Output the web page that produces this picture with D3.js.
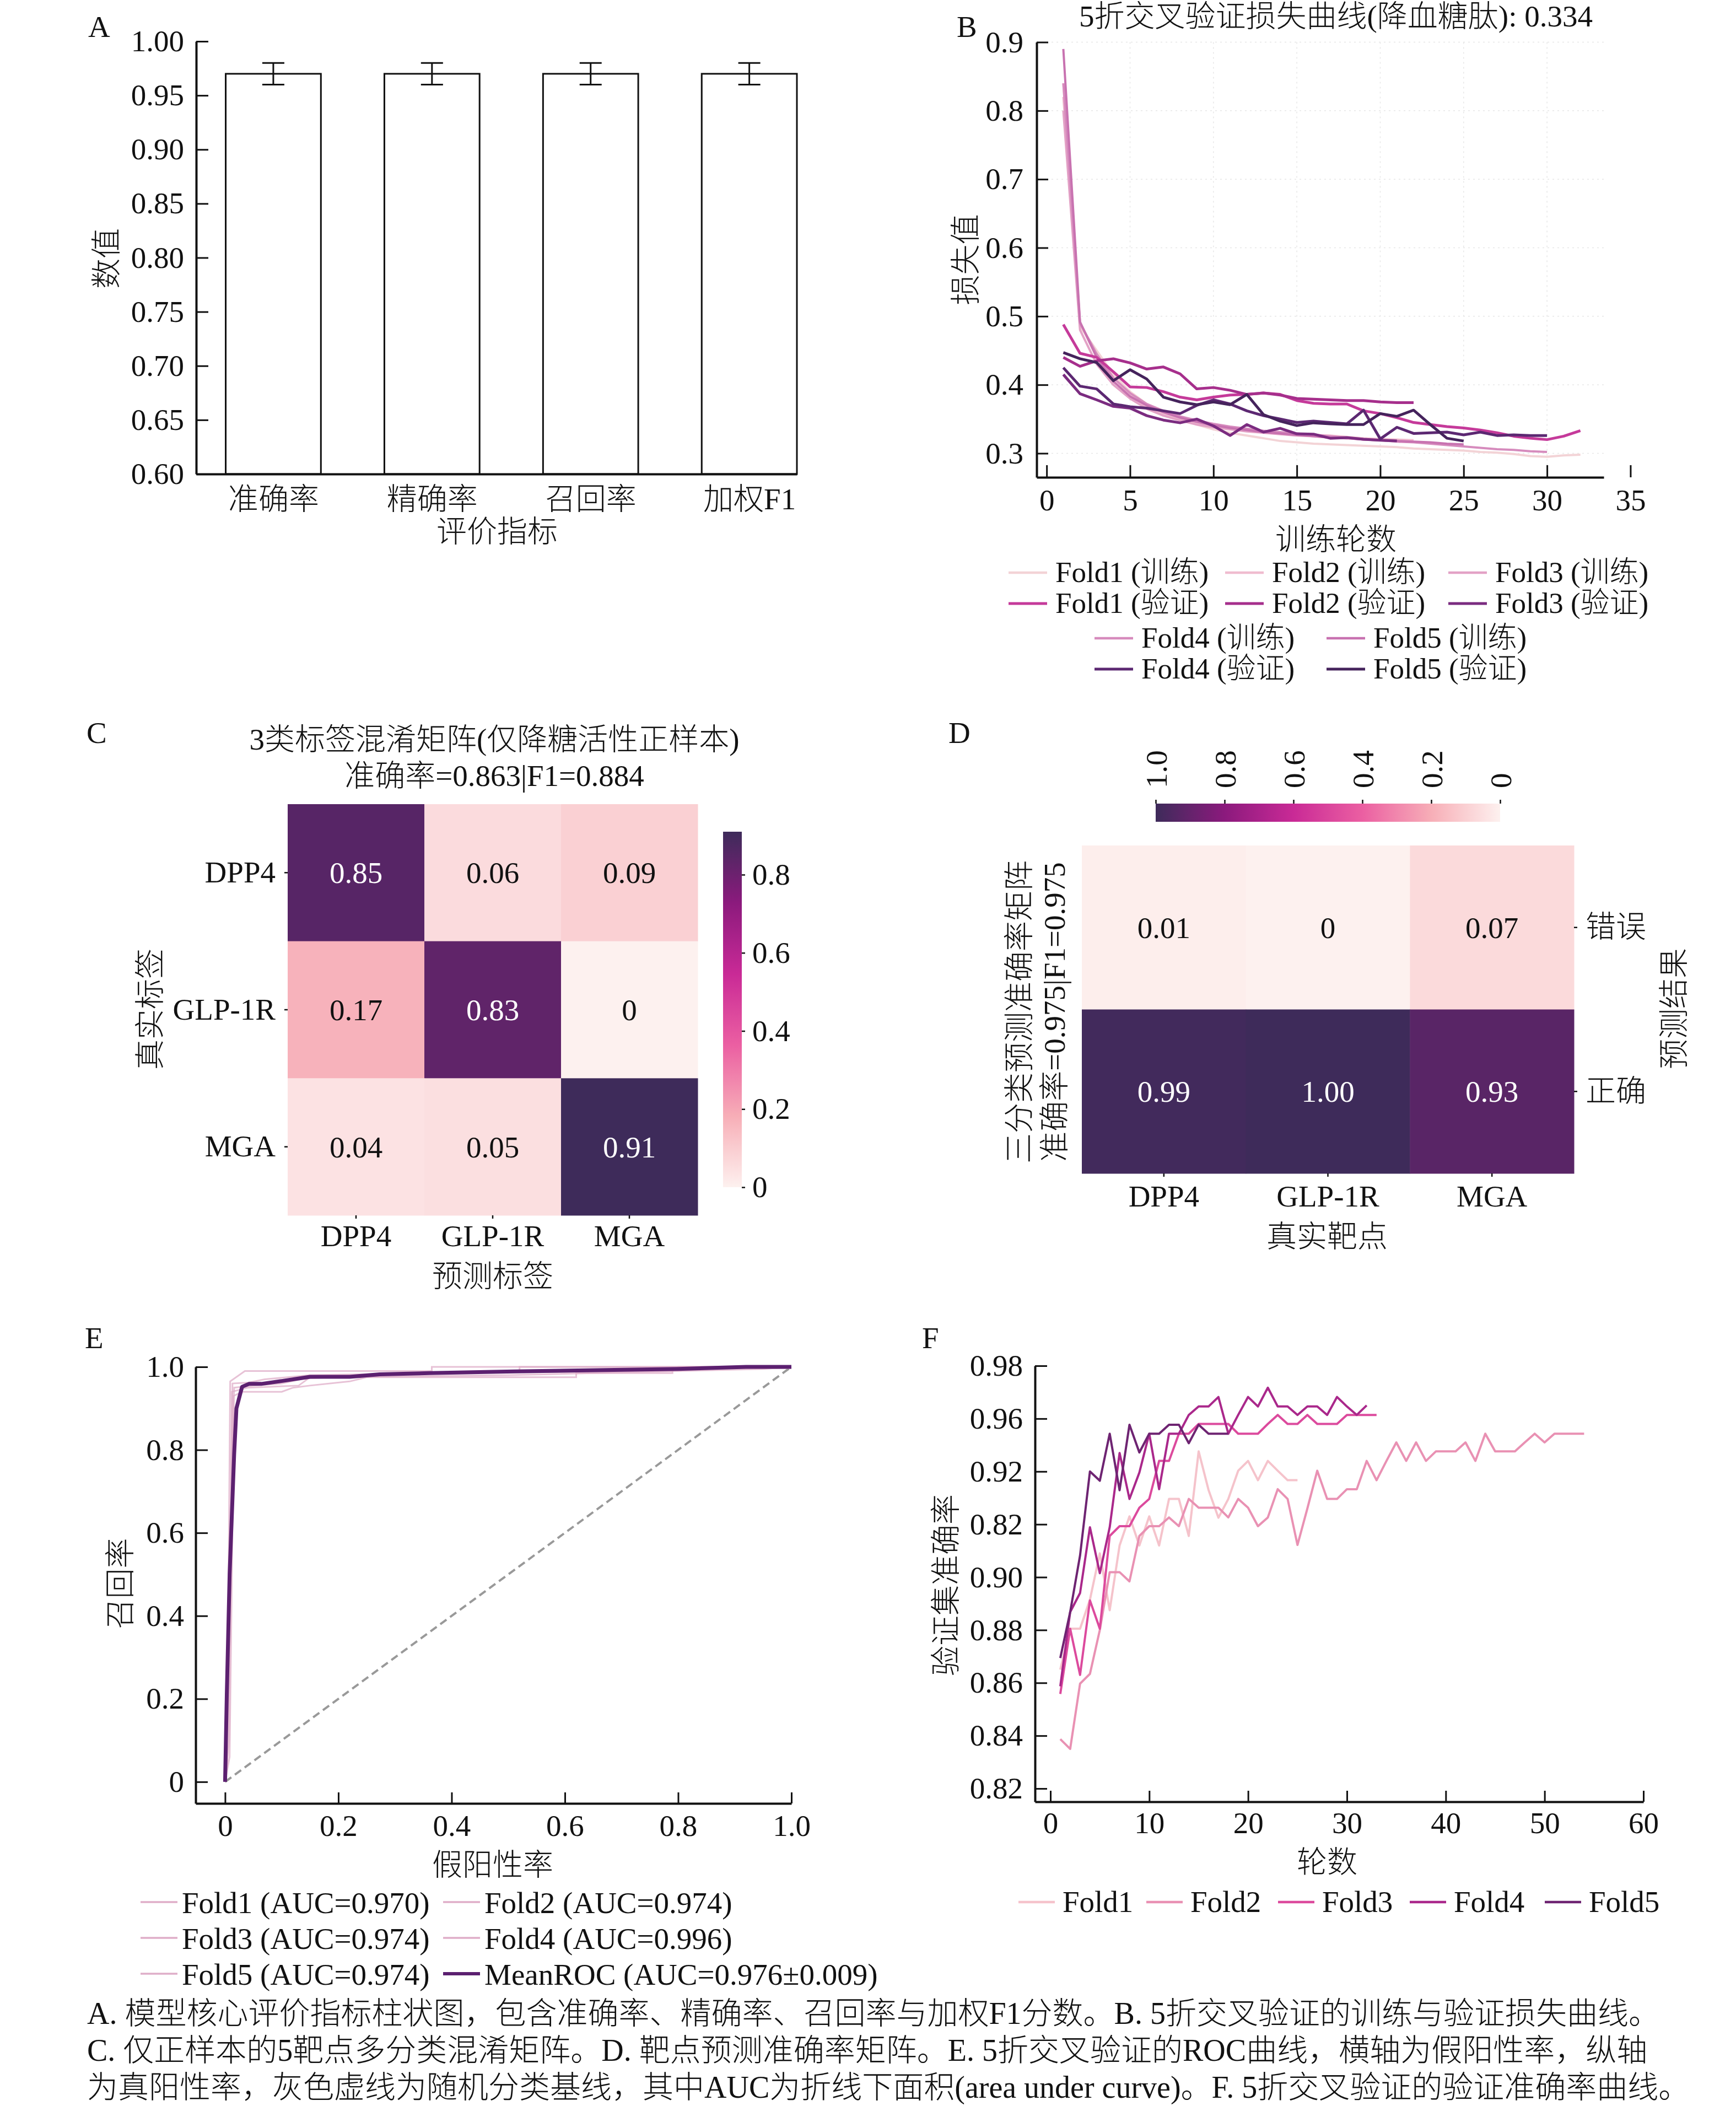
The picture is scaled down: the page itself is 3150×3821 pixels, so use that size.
<!DOCTYPE html>
<html>
<head>
<meta charset="utf-8">
<script src="https://cdn.jsdelivr.net/npm/d3@7"></script>
<style>
body { margin: 0; background: #fff; }
svg text { font-family: "Liberation Serif", "Noto Sans CJK SC", serif; font-weight: 300; fill: #111; }
</style>
</head>
<body>
<svg id="fig" width="3150" height="3821"></svg>
<script>
// ---------- data ----------
var metricNames = ["准确率", "精确率", "召回率", "加权F1"];
var metricValues = [0.97, 0.97, 0.97, 0.97];
var metricErrors = [0.01, 0.01, 0.01, 0.01];
var metricTicks = [0.60, 0.65, 0.70, 0.75, 0.80, 0.85, 0.90, 0.95, 1.00];

var foldNames = ["Fold1", "Fold2", "Fold3", "Fold4", "Fold5"];
var lossTrain = [
  [0.84,0.485,0.45,0.415,0.39,0.372,0.36,0.35,0.342,0.335,0.33,0.326,0.322,0.318,0.316,0.314,0.313,0.312,0.311,0.31,0.309,0.307,0.306,0.305,0.304,0.302,0.301,0.299,0.296,0.295,0.297,0.298],
  [0.82,0.49,0.44,0.405,0.385,0.368,0.357,0.35,0.345,0.34,0.337,0.334,0.332,0.33,0.328,0.327,0.326,0.324,0.322,0.321,0.32,0.319],
  [0.80,0.48,0.43,0.40,0.38,0.365,0.355,0.348,0.342,0.338,0.335,0.332,0.33,0.328,0.326,0.325,0.323,0.322,0.32,0.319,0.318],
  [0.84,0.49,0.445,0.41,0.388,0.372,0.362,0.354,0.348,0.343,0.339,0.336,0.333,0.331,0.329,0.327,0.325,0.323,0.321,0.319,0.317,0.316,0.314,0.312,0.31,0.308,0.306,0.305,0.303,0.302],
  [0.89,0.492,0.44,0.405,0.383,0.37,0.36,0.352,0.346,0.341,0.337,0.334,0.331,0.329,0.327,0.325,0.323,0.322,0.32,0.319,0.318,0.317,0.316,0.314,0.313]
];
var lossVal = [
  [0.488,0.446,0.44,0.419,0.397,0.396,0.39,0.382,0.378,0.382,0.385,0.386,0.388,0.386,0.377,0.373,0.372,0.372,0.362,0.358,0.352,0.345,0.342,0.339,0.337,0.334,0.33,0.325,0.322,0.32,0.325,0.333],
  [0.44,0.427,0.435,0.438,0.432,0.423,0.426,0.416,0.394,0.396,0.392,0.386,0.388,0.385,0.38,0.379,0.378,0.377,0.377,0.375,0.374,0.374],
  [0.415,0.387,0.378,0.3685,0.366,0.355,0.3485,0.3445,0.35,0.34,0.326,0.342,0.331,0.3365,0.3285,0.328,0.322,0.323,0.3205,0.319,0.318],
  [0.425,0.398,0.394,0.372,0.368,0.366,0.362,0.358,0.37,0.378,0.372,0.362,0.355,0.35,0.345,0.347,0.345,0.343,0.363,0.321,0.338,0.329,0.33,0.331,0.327,0.331,0.326,0.327,0.326,0.326],
  [0.447,0.438,0.4325,0.406,0.422,0.4085,0.382,0.375,0.371,0.375,0.371,0.386,0.3565,0.347,0.3405,0.3445,0.343,0.342,0.342,0.358,0.354,0.363,0.342,0.322,0.318]
];
var lossTrainColors = ["#f3d3d6", "#f0bccf", "#e3a2c6", "#d68bbd", "#c872b0"];
var lossValColors = ["#c53a9a", "#a62f8c", "#7b2c80", "#5c2872", "#45235c"];
var lossXTicks = [0, 5, 10, 15, 20, 25, 30, 35];
var lossYTicks = [0.3, 0.4, 0.5, 0.6, 0.7, 0.8, 0.9];

var targets = ["DPP4", "GLP-1R", "MGA"];
var confusion = [[0.85, 0.06, 0.09], [0.17, 0.83, 0], [0.04, 0.05, 0.91]];
var outcomes = ["错误", "正确"];
var targetAcc = [[0.01, 0, 0.07], [0.99, 1.00, 0.93]];
var cmapStops = ["#fdf1ef", "#f7aeb7", "#eb5fa2", "#c92a96", "#8b1a7d", "#3e2b5a"];
var cbarTicksC = [0, 0.2, 0.4, 0.6, 0.8];
var cbarTicksD = [1.0, 0.8, 0.6, 0.4, 0.2, 0];

var rocFolds = [
  [[0,0],[0.008,0.06],[0.012,0.5],[0.015,0.93],[0.03,0.94],[0.1,0.94],[0.12,0.95],[0.15,0.955],[0.22,0.965],[0.25,0.975],[0.62,0.975],[0.62,0.985],[0.79,0.985],[0.79,0.997],[1,0.997]],
  [[0,0],[0.005,0.3],[0.009,0.965],[0.035,0.99],[0.365,0.99],[0.365,1],[1,1]],
  [[0,0],[0.006,0.2],[0.013,0.96],[0.04,0.962],[0.07,0.97],[0.15,0.98],[0.52,0.988],[0.52,1],[1,1]],
  [[0,0],[0.007,0.1],[0.012,0.94],[0.04,0.95],[0.13,0.955],[0.15,0.975],[0.5,0.98],[0.79,0.99],[0.8,1],[1,1]],
  [[0,0],[0.004,0.05],[0.01,0.6],[0.016,0.95],[0.05,0.955],[0.1,0.96],[0.14,0.972],[0.37,0.985],[0.8,0.99],[0.95,0.995],[1,1]]
];
var rocMean = [[0,0],[0.003,0.21],[0.008,0.5],[0.016,0.79],[0.02,0.9],[0.03,0.952],[0.042,0.959],[0.064,0.959],[0.1,0.966],[0.15,0.976],[0.22,0.976],[0.273,0.982],[0.36,0.985],[0.51,0.989],[0.8,0.995],[0.92,1.0],[1,1]];
var rocLabels = ["Fold1 (AUC=0.970)", "Fold2 (AUC=0.974)", "Fold3 (AUC=0.974)", "Fold4 (AUC=0.996)", "Fold5 (AUC=0.974)", "MeanROC (AUC=0.976±0.009)"];
var rocFoldColor = "#dfaec8";
var rocMeanColor = "#5c2070";
var rocTicks = [0, 0.2, 0.4, 0.6, 0.8, 1.0];

var accFolds = [
  [0.865,0.8805,0.8805,0.8915,0.909,0.8875,0.912,0.923,0.912,0.923,0.912,0.9296,0.9296,0.9156,0.9476,0.933,0.9225,0.9296,0.9403,0.944,0.9367,0.944,0.9403,0.9367,0.9367],
  [0.8387,0.835,0.8597,0.8634,0.880,0.9019,0.9019,0.8984,0.9156,0.9193,0.9193,0.9226,0.9193,0.9296,0.9263,0.9263,0.9263,0.9226,0.9296,0.9263,0.9193,0.9226,0.9333,0.9296,0.9122,0.926,0.9403,0.9296,0.9296,0.9333,0.9333,0.944,0.9367,0.944,0.951,0.944,0.951,0.944,0.9476,0.9476,0.9476,0.951,0.944,0.9543,0.9476,0.9476,0.9476,0.951,0.9543,0.951,0.9543,0.9543,0.9543,0.9543],
  [0.8558,0.8805,0.863,0.8912,0.8805,0.9156,0.9193,0.9193,0.9263,0.9296,0.944,0.944,0.9543,0.9543,0.958,0.958,0.958,0.958,0.9543,0.9543,0.9543,0.958,0.9614,0.958,0.958,0.9614,0.958,0.958,0.958,0.9614,0.9614,0.9614,0.9614],
  [0.8587,0.8868,0.894,0.9189,0.9015,0.9189,0.947,0.9296,0.9396,0.9543,0.9333,0.9543,0.9543,0.9614,0.9646,0.9646,0.9682,0.9543,0.9614,0.9682,0.9646,0.9717,0.9646,0.9646,0.9614,0.9646,0.9646,0.9614,0.9682,0.9646,0.9614,0.965],
  [0.8694,0.8868,0.9082,0.94,0.9365,0.9543,0.9329,0.9577,0.9472,0.9543,0.9543,0.9577,0.9577,0.9507,0.9577,0.9543,0.9543,0.9543]
];
var accColors = ["#f5c3cb", "#e991b3", "#dc4a9d", "#aa288b", "#6e2472"];
var accXTicks = [0, 10, 20, 30, 40, 50, 60];
var accYTicks = [0.82, 0.84, 0.86, 0.88, 0.90, 0.92, 0.94, 0.96, 0.98];
var accYTickLabels = ["0.82", "0.84", "0.86", "0.88", "0.90", "0.82", "0.92", "0.96", "0.98"];

var captionLines = [
  "A. 模型核心评价指标柱状图，包含准确率、精确率、召回率与加权F1分数。B. 5折交叉验证的训练与验证损失曲线。",
  "C. 仅正样本的5靶点多分类混淆矩阵。D. 靶点预测准确率矩阵。E. 5折交叉验证的ROC曲线，横轴为假阳性率，纵轴",
  "为真阳性率，灰色虚线为随机分类基线，其中AUC为折线下面积(area under curve)。F. 5折交叉验证的验证准确率曲线。"
];

// ---------- helpers ----------
var FS = 55;
var svg = d3.select("#fig");
svg.append("rect").attr("width", 3150).attr("height", 3821).attr("fill", "#fff");

function styleAxis(g) {
  g.attr("font-family", null).attr("font-size", null);
  g.select(".domain").attr("stroke", "#111").attr("stroke-width", 4);
  g.selectAll(".tick line").attr("stroke", "#111").attr("stroke-width", 3);
  g.selectAll(".tick text").attr("font-size", FS).attr("fill", "#111");
}
function text(x, y, s, anchor, size) {
  return svg.append("text").attr("x", x).attr("y", y).attr("text-anchor", anchor || "middle")
    .attr("font-size", size || FS).text(s);
}
function vtext(x, y, s) {
  return svg.append("text").attr("transform", "translate(" + x + "," + y + ") rotate(-90)")
    .attr("text-anchor", "middle").attr("dy", "0.36em").attr("font-size", FS).text(s);
}
function fmtCell(d) { return d === 0 ? "0" : d.toFixed(2); }
function fmt1(d) { return d === 0 ? "0" : d.toFixed(1); }
function makeCmap(vmax) {
  return d3.scaleLinear()
    .domain(cmapStops.map(function(c, i) { return vmax * i / (cmapStops.length - 1); }))
    .range(cmapStops).interpolate(d3.interpolateRgb).clamp(true);
}
var defs = svg.append("defs");

// ---------- A: bar chart ----------
var xA = d3.scaleLinear().domain([-0.486, 3.3]).range([356, 1446]);
var yA = d3.scaleLinear().domain([0.6, 1.0]).range([860, 75]);
svg.append("g").selectAll("rect").data(metricValues).enter().append("rect")
  .attr("x", function(d, i) { return xA(i - 0.3); })
  .attr("width", xA(0.3) - xA(-0.3))
  .attr("y", function(d) { return yA(d); })
  .attr("height", function(d) { return yA(0.6) - yA(d); })
  .attr("fill", "#fff").attr("stroke", "#111").attr("stroke-width", 3);
var errG = svg.append("g").attr("stroke", "#111").attr("stroke-width", 3);
metricValues.forEach(function(v, i) {
  var cx = xA(i), lo = yA(v - metricErrors[i]), hi = yA(v + metricErrors[i]);
  errG.append("line").attr("x1", cx).attr("x2", cx).attr("y1", lo).attr("y2", hi);
  errG.append("line").attr("x1", cx - 20).attr("x2", cx + 20).attr("y1", lo).attr("y2", lo);
  errG.append("line").attr("x1", cx - 20).attr("x2", cx + 20).attr("y1", hi).attr("y2", hi);
});
svg.append("g").attr("transform", "translate(356,0)")
  .call(d3.axisLeft(yA).tickValues(metricTicks).tickFormat(d3.format(".2f")).tickSizeInner(-22).tickSizeOuter(0).tickPadding(22))
  .call(styleAxis);
svg.append("g").attr("transform", "translate(0,860)")
  .call(d3.axisBottom(xA).tickValues([0, 1, 2, 3]).tickFormat(function(d) { return metricNames[d]; }).tickSize(0).tickPadding(25))
  .call(styleAxis);
text(160, 67, "A", "start");
vtext(192, 469, "数值");
text(902, 983, "评价指标");

// ---------- B: loss curves ----------
var xB = d3.scaleLinear().domain([-0.6, 33.4]).range([1881, 2910]);
var yB = d3.scaleLinear().domain([0.265, 0.9]).range([866, 76.5]);
var gridB = svg.append("g").attr("stroke", "#e6e6e6").attr("stroke-width", 1.5).attr("stroke-dasharray", "3,6");
lossXTicks.slice(1, 7).forEach(function(t) {
  gridB.append("line").attr("x1", xB(t)).attr("x2", xB(t)).attr("y1", yB(0.9)).attr("y2", yB(0.265));
});
lossYTicks.forEach(function(t) {
  gridB.append("line").attr("x1", xB(-0.6)).attr("x2", xB(33.4)).attr("y1", yB(t)).attr("y2", yB(t));
});
var lineB = d3.line().x(function(d, i) { return xB(i + 1); }).y(function(d) { return yB(d); });
lossTrain.forEach(function(s, i) {
  svg.append("path").attr("d", lineB(s)).attr("fill", "none").attr("stroke", lossTrainColors[i])
    .attr("stroke-width", 4).attr("stroke-linejoin", "round");
});
lossVal.forEach(function(s, i) {
  svg.append("path").attr("d", lineB(s)).attr("fill", "none").attr("stroke", lossValColors[i])
    .attr("stroke-width", 5).attr("stroke-linejoin", "round");
});
svg.append("g").attr("transform", "translate(1881,0)")
  .call(d3.axisLeft(yB).tickValues(lossYTicks).tickFormat(d3.format(".1f")).tickSizeInner(-21).tickSizeOuter(0).tickPadding(24))
  .call(styleAxis);
svg.append("g").attr("transform", "translate(0,866)")
  .call(d3.axisBottom(xB).tickValues(lossXTicks).tickSizeInner(-22).tickSizeOuter(0).tickPadding(21))
  .call(styleAxis);
text(1736, 67, "B", "start");
text(2424, 48, "5折交叉验证损失曲线(降血糖肽): 0.334");
vtext(1751, 471, "损失值");
text(2424, 997, "训练轮数");

var legB = [
  { cols: [1830, 2223, 2628], y: 1039, folds: [0, 1, 2], val: false },
  { cols: [1830, 2223, 2628], y: 1095, folds: [0, 1, 2], val: true },
  { cols: [1986, 2407], y: 1158, folds: [3, 4], val: false },
  { cols: [1986, 2407], y: 1214, folds: [3, 4], val: true }
];
legB.forEach(function(row) {
  row.folds.forEach(function(f, k) {
    var x0 = row.cols[k];
    svg.append("line").attr("x1", x0).attr("x2", x0 + 70).attr("y1", row.y).attr("y2", row.y)
      .attr("stroke", row.val ? lossValColors[f] : lossTrainColors[f]).attr("stroke-width", row.val ? 5 : 4.5);
    text(x0 + 85, row.y + 17, foldNames[f] + (row.val ? " (验证)" : " (训练)"), "start", 53);
  });
});

// ---------- C: confusion matrix ----------
var xC = d3.scaleBand().domain(targets).range([522, 1266]);
var yC = d3.scaleBand().domain(targets).range([1459, 2205]);
var cmapC = makeCmap(0.91);
confusion.forEach(function(row, i) {
  row.forEach(function(v, j) {
    svg.append("rect").attr("x", xC(targets[j])).attr("y", yC(targets[i]))
      .attr("width", xC.bandwidth() + 0.5).attr("height", yC.bandwidth() + 0.5).attr("fill", cmapC(v));
    text(xC(targets[j]) + xC.bandwidth() / 2, yC(targets[i]) + yC.bandwidth() / 2 + 19, fmtCell(v))
      .style("fill", v > 0.5 ? "#fff" : "#111");
  });
});
svg.append("g").attr("transform", "translate(522,0)")
  .call(d3.axisLeft(yC).tickSize(6).tickPadding(16)).call(styleAxis)
  .call(function(g) { g.select(".domain").remove(); g.selectAll(".tick line").attr("stroke-width", 2.5); });
svg.append("g").attr("transform", "translate(0,2205)")
  .call(d3.axisBottom(xC).tickSize(6).tickPadding(11)).call(styleAxis)
  .call(function(g) { g.select(".domain").remove(); g.selectAll(".tick line").attr("stroke-width", 2.5); });
var gradC = defs.append("linearGradient").attr("id", "gradC").attr("x1", 0).attr("y1", 1).attr("x2", 0).attr("y2", 0);
d3.range(0, 1.0001, 0.05).forEach(function(t) {
  gradC.append("stop").attr("offset", t).attr("stop-color", cmapC(t * 0.91));
});
var yCb = d3.scaleLinear().domain([0, 0.91]).range([2154, 1509]);
svg.append("rect").attr("x", 1312).attr("y", 1509).attr("width", 34).attr("height", 645).attr("fill", "url(#gradC)");
svg.append("g").attr("transform", "translate(1346,0)")
  .call(d3.axisRight(yCb).tickValues(cbarTicksC).tickFormat(fmt1).tickSize(6).tickPadding(13)).call(styleAxis)
  .call(function(g) { g.select(".domain").remove(); g.selectAll(".tick line").attr("stroke-width", 2.5); });
text(157, 1348, "C", "start");
text(897, 1360, "3类标签混淆矩阵(仅降糖活性正样本)");
text(897, 1426, "准确率=0.863|F1=0.884");
vtext(271, 1831, "真实标签");
text(894, 2334, "预测标签");

// ---------- D: target accuracy matrix ----------
var xD = d3.scaleBand().domain(targets).range([1963, 2856]);
var yD = d3.scaleBand().domain(outcomes).range([1534, 2129]);
var cmapD = makeCmap(1.0);
targetAcc.forEach(function(row, i) {
  row.forEach(function(v, j) {
    svg.append("rect").attr("x", xD(targets[j])).attr("y", yD(outcomes[i]))
      .attr("width", xD.bandwidth() + 0.5).attr("height", yD.bandwidth() + 0.5).attr("fill", cmapD(v));
    text(xD(targets[j]) + xD.bandwidth() / 2, yD(outcomes[i]) + yD.bandwidth() / 2 + 19, fmtCell(v))
      .style("fill", v > 0.5 ? "#fff" : "#111");
  });
});
svg.append("g").attr("transform", "translate(0,2129)")
  .call(d3.axisBottom(xD).tickSize(6).tickPadding(15)).call(styleAxis)
  .call(function(g) { g.select(".domain").remove(); g.selectAll(".tick line").attr("stroke-width", 2.5); });
svg.append("g").attr("transform", "translate(2856,0)")
  .call(d3.axisRight(yD).tickSize(6).tickPadding(15)).call(styleAxis)
  .call(function(g) { g.select(".domain").remove(); g.selectAll(".tick line").attr("stroke-width", 2.5); });
var gradD = defs.append("linearGradient").attr("id", "gradD").attr("x1", 0).attr("y1", 0).attr("x2", 1).attr("y2", 0);
d3.range(0, 1.0001, 0.05).forEach(function(t) {
  gradD.append("stop").attr("offset", t).attr("stop-color", cmapD(1 - t));
});
var xDb = d3.scaleLinear().domain([1, 0]).range([2097, 2722]);
svg.append("rect").attr("x", 2097).attr("y", 1458).attr("width", 625).attr("height", 33).attr("fill", "url(#gradD)");
svg.append("g").attr("transform", "translate(0,1458)")
  .call(d3.axisTop(xDb).tickValues(cbarTicksD).tickFormat(fmt1).tickSize(7)).call(styleAxis)
  .call(function(g) {
    g.select(".domain").remove();
    g.selectAll(".tick line").attr("stroke-width", 2.5);
    g.selectAll(".tick text").attr("x", 0).attr("y", 0).attr("dy", "0.36em")
      .attr("text-anchor", "start").attr("transform", "translate(0,-28) rotate(-90)");
  });
text(1721, 1348, "D", "start");
vtext(1848, 1836, "三分类预测准确率矩阵");
vtext(1912, 1836, "准确率=0.975|F1=0.975");
vtext(3036, 1830, "预测结果");
text(2408, 2262, "真实靶点");

// ---------- E: ROC ----------
var xE = d3.scaleLinear().domain([-0.052, 1.0]).range([355, 1436]);
var yE = d3.scaleLinear().domain([-0.052, 1.0]).range([3272, 2480]);
var lineE = d3.line().x(function(d) { return xE(d[0]); }).y(function(d) { return yE(d[1]); });
svg.append("path").attr("d", lineE([[0, 0], [1, 1]])).attr("stroke", "#999").attr("stroke-width", 4)
  .attr("stroke-dasharray", "14,8").attr("fill", "none");
rocFolds.forEach(function(s) {
  svg.append("path").attr("d", lineE(s)).attr("fill", "none").attr("stroke", rocFoldColor)
    .attr("stroke-width", 3).attr("stroke-opacity", 0.75);
});
svg.append("path").attr("d", lineE(rocMean)).attr("fill", "none").attr("stroke", rocMeanColor)
  .attr("stroke-width", 7).attr("stroke-linejoin", "round");
svg.append("g").attr("transform", "translate(355,0)")
  .call(d3.axisLeft(yE).tickValues(rocTicks).tickFormat(fmt1).tickSizeInner(-22).tickSizeOuter(0).tickPadding(21))
  .call(styleAxis);
svg.append("g").attr("transform", "translate(0,3272)")
  .call(d3.axisBottom(xE).tickValues(rocTicks).tickFormat(fmt1).tickSizeInner(-20).tickSizeOuter(0).tickPadding(20))
  .call(styleAxis);
text(154, 2446, "E", "start");
vtext(217, 2873, "召回率");
text(894, 3402, "假阳性率");
var legE = [[255, 3451], [804, 3451], [255, 3516], [804, 3516], [255, 3581], [804, 3581]];
rocLabels.forEach(function(s, i) {
  var p = legE[i], mean = i === 5;
  svg.append("line").attr("x1", p[0]).attr("x2", p[0] + 67).attr("y1", p[1]).attr("y2", p[1])
    .attr("stroke", mean ? rocMeanColor : rocFoldColor).attr("stroke-width", mean ? 6 : 3.5);
  text(p[0] + 75, p[1] + 20, s, "start");
});

// ---------- F: validation accuracy ----------
var xF = d3.scaleLinear().domain([-1.56, 60]).range([1878, 2982]);
var yF = d3.scaleLinear().domain([0.815, 0.98]).range([3269, 2478]);
var lineF = d3.line().x(function(d, i) { return xF(i + 1); }).y(function(d) { return yF(d); });
accFolds.forEach(function(s, i) {
  svg.append("path").attr("d", lineF(s)).attr("fill", "none").attr("stroke", accColors[i])
    .attr("stroke-width", 4).attr("stroke-linejoin", "round");
});
svg.append("g").attr("transform", "translate(1878,0)")
  .call(d3.axisLeft(yF).tickValues(accYTicks).tickFormat(function(d, i) { return accYTickLabels[i]; })
    .tickSizeInner(-22).tickSizeOuter(0).tickPadding(22))
  .call(styleAxis);
svg.append("g").attr("transform", "translate(0,3269)")
  .call(d3.axisBottom(xF).tickValues(accXTicks).tickSizeInner(-20).tickSizeOuter(0).tickPadding(18))
  .call(styleAxis);
text(1673, 2446, "F", "start");
vtext(1715, 2876, "验证集准确率");
text(2408, 3397, "轮数");
var legFx = [1848, 2080, 2319, 2558, 2803];
foldNames.forEach(function(s, i) {
  svg.append("line").attr("x1", legFx[i]).attr("x2", legFx[i] + 66).attr("y1", 3451).attr("y2", 3451)
    .attr("stroke", accColors[i]).attr("stroke-width", 4.5);
  text(legFx[i] + 80, 3469, s, "start");
});

// ---------- caption ----------
captionLines.forEach(function(s, i) {
  text(158, 3672 + i * 67, s, "start", 56);
});
</script>
</body>
</html>
